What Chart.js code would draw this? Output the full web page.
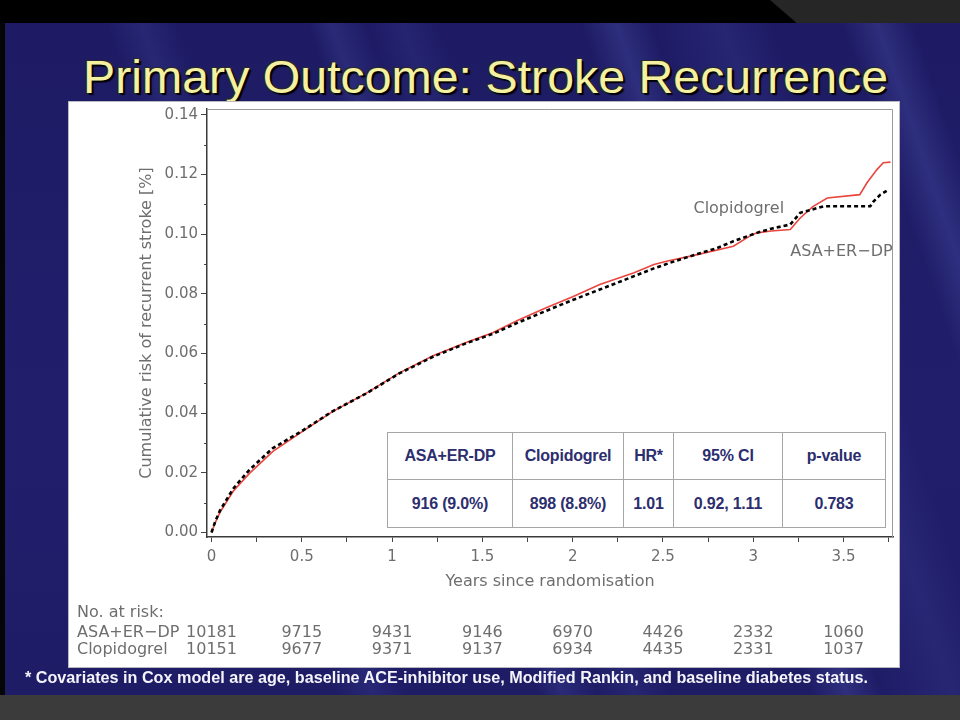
<!DOCTYPE html>
<html>
<head>
<meta charset="utf-8">
<script src="https://cdn.jsdelivr.net/npm/chart.js@4.4.1/dist/chart.umd.min.js"></script>
<style>
  html, body { margin: 0; padding: 0; width: 960px; height: 720px; overflow: hidden; background: #3b3b3b; }
  #topband { position: absolute; left: 0; top: 0; width: 960px; height: 23px; background: #000; }
  #topgrey { position: absolute; left: 770px; top: 0; width: 190px; height: 23px; background: #262626;
             clip-path: polygon(0 0, 100% 0, 100% 100%, 14% 100%); }
  #leftband { position: absolute; left: 0; top: 23px; width: 5px; height: 672px; background: #050505; }
  #slide { position: absolute; left: 5px; top: 23px; width: 955px; height: 672px;
    background:
      linear-gradient(71deg, transparent 0 28%, rgba(70,80,170,0.22) 31%, transparent 34%),
      linear-gradient(71deg, transparent 0 45%, rgba(70,80,170,0.28) 47%, transparent 50%, rgba(70,80,170,0.18) 53%, transparent 56%),
      linear-gradient(71deg, transparent 0 68%, rgba(80,90,180,0.30) 71%, transparent 74%, rgba(70,80,170,0.2) 80%, transparent 84%),
      linear-gradient(71deg, transparent 0 90%, rgba(80,90,180,0.30) 93%, transparent 96%),
      linear-gradient(180deg, #1e1b64 0%, #211f6c 60%, #1f1c66 100%); }
  #panel { position: absolute; left: 68px; top: 101px; width: 830px; height: 565px; background: #fff;
           border: 1px solid #b8b8c0; }
  #title { position: absolute; left: 83px; top: 54px; font-family: "Liberation Sans", Arial, sans-serif;
           font-size: 46px; line-height: 46px; color: #f4f1a2; white-space: nowrap; transform-origin: 0 0;
           text-shadow: 2px 2px 1px #000, -1px -1px 0 #2a2a2a, 1px -1px 0 #2a2a2a, -1px 1px 0 #2a2a2a; }
  #footnote { position: absolute; left: 25px; top: 670px; font-family: "Liberation Sans", Arial, sans-serif;
              font-size: 16px; line-height: 16px; font-weight: bold; color: #f4f4fa; white-space: nowrap;
              transform-origin: 0 0; }
  #chart { position: absolute; left: 0; top: 0; }
  #stats { position: absolute; left: 387px; top: 432px; border-collapse: collapse; background: #fff;
           table-layout: fixed; font-family: "Liberation Sans", Arial, sans-serif; font-size: 16px;
           font-weight: bold; color: #2c2e6e; letter-spacing: -0.2px; }
  #stats td { border: 1px solid #a6a6a6; text-align: center; padding: 0; }
</style>
</head>
<body>
<div id="topband"></div>
<div id="topgrey"></div>
<div id="leftband"></div>
<div id="slide"></div>
<div id="title">Primary Outcome: Stroke Recurrence</div>
<div id="panel"></div>
<canvas id="chart" width="960" height="720"></canvas>
<table id="stats"></table>
<div id="footnote">* Covariates in Cox model are age, baseline ACE-inhibitor use, Modified Rankin, and baseline diabetes status.</div>

<script>
// Kaplan-Meier style cumulative risk
const asaYears = [0, 0.02, 0.047, 0.12, 0.21, 0.34, 0.49, 0.67, 0.86, 1.04, 1.23, 1.41, 1.56, 1.7, 1.85, 2.0, 2.15,
  2.34, 2.45, 2.52, 2.69, 2.89, 2.98, 3.02, 3.1, 3.205, 3.26, 3.33, 3.41, 3.59, 3.63, 3.685, 3.72, 3.76];
const asaRisk = [0, 0.0032, 0.0068, 0.0138, 0.0198, 0.0272, 0.0333, 0.0405, 0.0468, 0.0535, 0.0593, 0.0637, 0.0670,
  0.0712, 0.0752, 0.0790, 0.0831, 0.0870, 0.0898, 0.0909, 0.0931, 0.0959, 0.0993, 0.1004, 0.1010, 0.1015, 0.1054,
  0.1092, 0.1121, 0.1132, 0.1172, 0.1216, 0.1239, 0.1241];

const clopYears = [0, 0.02, 0.047, 0.12, 0.21, 0.34, 0.49, 0.67, 0.86, 1.04, 1.23, 1.41, 1.56, 1.7, 1.85, 2.0, 2.15,
  2.34, 2.45, 2.55, 2.69, 2.8, 2.89, 3.02, 3.1, 3.205, 3.26, 3.39, 3.648, 3.667, 3.704, 3.75];
const clopRisk = [0, 0.0036, 0.0074, 0.0147, 0.0210, 0.0283, 0.0336, 0.0406, 0.0467, 0.0533, 0.0590, 0.0634, 0.0666,
  0.0704, 0.0742, 0.0779, 0.0814, 0.0859, 0.0885, 0.0906, 0.0933, 0.0953, 0.0976, 0.1004, 0.1018, 0.1032, 0.1071,
  0.1093, 0.1093, 0.1110, 0.1132, 0.1149];

// numbers at risk
const atRiskYears = [0, 0.5, 1, 1.5, 2, 2.5, 3, 3.5];
const asaAtRisk = [10181, 9715, 9431, 9146, 6970, 4426, 2332, 1060];
const clopAtRisk = [10151, 9677, 9371, 9137, 6934, 4435, 2331, 1037];

// summary table
const statHeaders = ['ASA+ER-DP', 'Clopidogrel', 'HR*', '95% CI', 'p-value'];
const statValues = ['916 (9.0%)', '898 (8.8%)', '1.01', '0.92, 1.11', '0.783'];
const statWidths = [124, 110, 49, 108, 102];

function toPoints(xs, ys) {
  return xs.map((x, i) => ({ x: x, y: ys[i] }));
}

// squeeze a line of html text to the width it has in the slide
function fitWidth(id, width) {
  const el = document.getElementById(id);
  const w = el.getBoundingClientRect().width;
  el.style.transform = 'scaleX(' + (width / w) + ')';
}
fitWidth('title', 805);
fitWidth('footnote', 843);

// build the stats table
const table = document.getElementById('stats');
[statHeaders, statValues].forEach((row, r) => {
  const tr = document.createElement('tr');
  row.forEach((txt, i) => {
    const td = document.createElement('td');
    td.textContent = txt;
    td.style.width = statWidths[i] + 'px';
    td.style.height = (r === 0 ? 46 : 47) + 'px';
    tr.appendChild(td);
  });
  table.appendChild(tr);
});

const grey = '#6e6e6e';
const chartFont = '"DejaVu Sans", Verdana, sans-serif';

const extras = {
  id: 'extras',
  afterDraw(chart) {
    const ctx = chart.ctx;
    const a = chart.chartArea;
    const x = chart.scales.x, y = chart.scales.y;
    ctx.save();
    // top and right of the frame
    ctx.strokeStyle = '#9a9a9a';
    ctx.lineWidth = 1;
    ctx.beginPath();
    ctx.moveTo(a.left, a.top + 0.5);
    ctx.lineTo(a.right - 0.5, a.top + 0.5);
    ctx.lineTo(a.right - 0.5, a.bottom);
    ctx.stroke();
    // minor y ticks
    ctx.strokeStyle = '#444';
    ctx.lineWidth = 1;
    for (let v = 0.01; v < 0.14; v += 0.02) {
      const py = Math.round(y.getPixelForValue(v)) + 0.5;
      ctx.beginPath();
      ctx.moveTo(a.left - 3, py);
      ctx.lineTo(a.left, py);
      ctx.stroke();
    }
    // curve labels
    ctx.fillStyle = grey;
    ctx.font = '16px ' + chartFont;
    ctx.textAlign = 'left';
    ctx.textBaseline = 'alphabetic';
    ctx.fillText('Clopidogrel', x.getPixelForValue(2.669), y.getPixelForValue(0.1071));
    ctx.fillText('ASA+ER\u2212DP', x.getPixelForValue(3.205), y.getPixelForValue(0.0928));
    // numbers at risk
    ctx.fillText('No. at risk:', 77, 617);
    ctx.fillText('ASA+ER\u2212DP', 77, 636.5);
    ctx.fillText('Clopidogrel', 77, 654);
    ctx.textAlign = 'center';
    atRiskYears.forEach((t, i) => {
      const px = x.getPixelForValue(t);
      ctx.fillText(String(asaAtRisk[i]), px, 636.5);
      ctx.fillText(String(clopAtRisk[i]), px, 654);
    });
    ctx.restore();
  }
};

new Chart(document.getElementById('chart'), {
  type: 'line',
  data: {
    datasets: [
      {
        label: 'Clopidogrel',
        data: toPoints(clopYears, clopRisk),
        borderColor: '#000',
        borderWidth: 2.6,
        borderDash: [4, 3],
        pointRadius: 0,
        tension: 0
      },
      {
        label: 'ASA+ER-DP',
        data: toPoints(asaYears, asaRisk),
        borderColor: '#e8463e',
        borderWidth: 1.6,
        pointRadius: 0,
        tension: 0
      }
    ]
  },
  options: {
    responsive: false,
    animation: false,
    devicePixelRatio: 1,
    layout: { padding: { left: 68, right: 67, top: 109, bottom: 122 } },
    plugins: { legend: { display: false }, tooltip: { enabled: false } },
    scales: {
      x: {
        type: 'linear',
        min: -0.025,
        max: 3.774,
        afterFit(scale) { scale.height = 61; },
        border: { color: '#3a3a3a', width: 1.5 },
        grid: { drawOnChartArea: false, tickLength: 5, tickColor: '#444' },
        ticks: {
          stepSize: 0.25,
          includeBounds: false,
          autoSkip: false,
          maxRotation: 0,
          padding: 6,
          color: grey,
          font: { family: chartFont, size: 15 },
          callback: (v) => (Math.abs(v * 2 - Math.round(v * 2)) < 1e-6 ? String(v) : '')
        },
        title: {
          display: true,
          text: 'Years since randomisation',
          color: grey,
          font: { family: chartFont, size: 16 },
          padding: { top: 0, bottom: 7 }
        }
      },
      y: {
        type: 'linear',
        min: -0.0015,
        max: 0.1419,
        afterFit(scale) { scale.width = 139; },
        border: { color: '#3a3a3a', width: 1.5 },
        grid: { drawOnChartArea: false, tickLength: 6, tickColor: '#444' },
        ticks: {
          stepSize: 0.02,
          includeBounds: false,
          padding: 3,
          color: grey,
          font: { family: chartFont, size: 15 },
          callback: (v) => v.toFixed(2)
        },
        title: {
          display: true,
          text: 'Cumulative risk of recurrent stroke [%]',
          color: grey,
          font: { family: chartFont, size: 16 },
          padding: { top: 69, bottom: 0 }
        }
      }
    }
  },
  plugins: [extras]
});
</script>
</body>
</html>
